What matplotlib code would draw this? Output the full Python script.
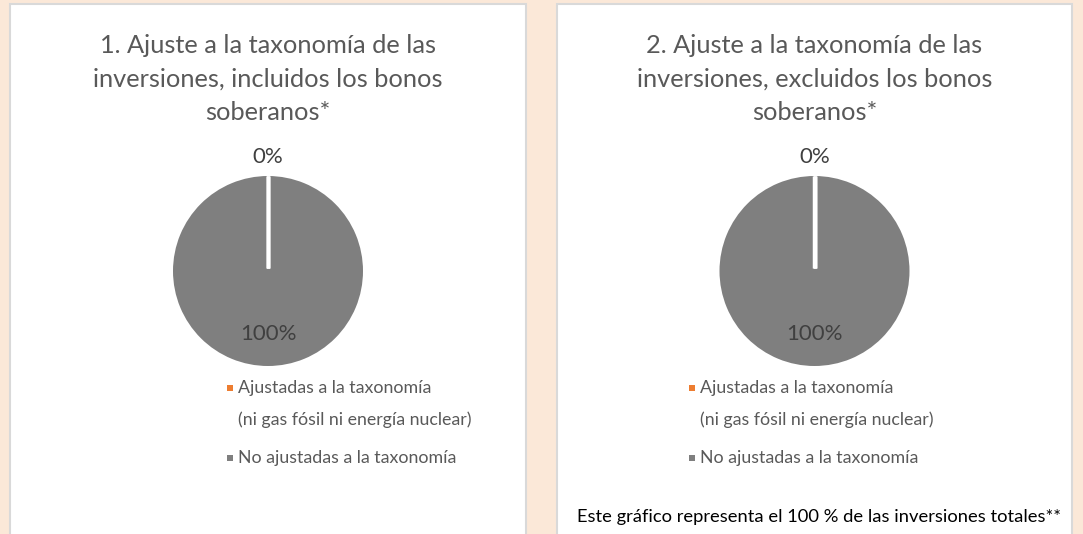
import matplotlib.pyplot as plt
from matplotlib.patches import Rectangle
import numpy as np

plt.rcParams['font.family'] = ['Lato', 'DejaVu Sans']

# data
categories = ["Ajustadas a la taxonomía\n(ni gas fósil ni energía nuclear)",
              "No ajustadas a la taxonomía"]
incl_values = [0, 100]
excl_values = [0, 100]
titles = ["1. Ajuste a la taxonomía de las\ninversiones, incluidos los bonos\nsoberanos*",
          "2. Ajuste a la taxonomía de las\ninversiones, excluidos los bonos\nsoberanos*"]
footnote = "Este gráfico representa el 100 % de las inversiones totales**"

colors = ["#ED7D31", "#7F7F7F"]
BG = "#FBE8D8"
TXT = "#595959"

W, H = 1083, 534
fig = plt.figure(figsize=(W / 100, H / 100), dpi=100, facecolor=BG)


def px(x, y):
    # pixel coords (top-left origin) -> figure fraction
    return x / W, 1 - y / H


panels = [(10, 526), (557, 1072)]
legend_x = [238, 700]
for (x0, x1) in panels:
    fig.patches.append(Rectangle((x0 / W, -0.05), (x1 - x0) / W, 1 - 4 / H + 0.05,
                                 transform=fig.transFigure, facecolor="white",
                                 edgecolor="#D9D9D9", linewidth=1.5, zorder=-1))

for i, (vals, title) in enumerate(zip([incl_values, excl_values], titles)):
    x0, x1 = panels[i]
    cx = (x0 + x1) / 2
    cy = 271
    r = 95
    fig.text(*px(cx, 79), title, ha="center", va="center", fontsize=18.3,
             color=TXT, linespacing=1.56)

    ax = fig.add_axes([(cx - r) / W, 1 - (cy + r) / H, 2 * r / W, 2 * r / H])
    wedges, _ = ax.pie(vals, colors=colors, startangle=90, counterclock=False)
    ax.set_xlim(-1, 1)
    ax.set_ylim(-1, 1)
    ax.axis("off")
    total = sum(vals)
    # white slice borders
    for w in wedges:
        for th in (w.theta1, w.theta2):
            a = np.deg2rad(th)
            ax.plot([0.03 * np.cos(a), np.cos(a)], [0.03 * np.sin(a), np.sin(a)],
                    color="white", linewidth=2.5, solid_capstyle="butt")
    for w, v in zip(wedges, vals):
        ang = np.deg2rad((w.theta1 + w.theta2) / 2)
        d = 1.2 if v / total < 0.05 else 0.66
        ax.text(d * np.cos(ang), d * np.sin(ang), f"{v / total:.0%}",
                ha="center", va="center", fontsize=16, color="#404040",
                clip_on=False)

    # legend
    y = 388
    lx = legend_x[i]
    for w, lab in zip(wedges, categories):
        fig.patches.append(Rectangle(px(lx - 11, y + 3), 6 / W, 6 / H,
                                     transform=fig.transFigure,
                                     facecolor=w.get_facecolor(), edgecolor="none"))
        for line in lab.split("\n"):
            fig.text(*px(lx, y), line, ha="left", va="center", fontsize=12.8,
                     color=TXT)
            y += 32
        y += 6

fig.text(*px(577, 517), footnote, ha="left", va="center", fontsize=13.2, color="black")

fig.savefig("out.png", dpi=100, facecolor=BG)
